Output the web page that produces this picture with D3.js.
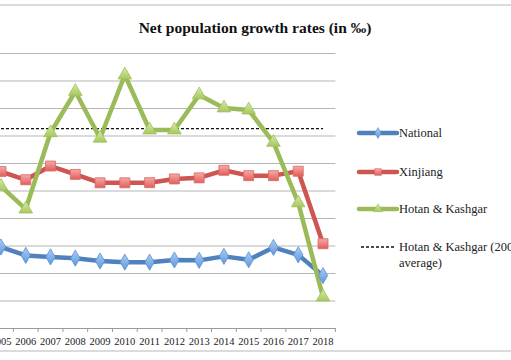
<!DOCTYPE html>
<html>
<head>
<meta charset="utf-8">
<script src="https://cdn.jsdelivr.net/npm/d3@7"></script>
<style>
  html, body { margin: 0; padding: 0; background: #fff; overflow: hidden; }
  svg { display: block; }
</style>
</head>
<body>
<svg id="chart" width="511" height="360"></svg>
<script>
const years = ["2005","2006","2007","2008","2009","2010","2011","2012","2013","2014","2015","2016","2017","2018"];
const national = [5.89, 5.28, 5.17, 5.08, 4.87, 4.79, 4.79, 4.95, 4.92, 5.21, 4.96, 5.86, 5.32, 3.81];
const xinjiang = [11.38, 10.78, 11.78, 11.17, 10.56, 10.56, 10.57, 10.84, 10.92, 11.47, 11.08, 11.08, 11.40, 6.13];
const hotanKashgar = [10.3, 8.65, 14.2, 17.2, 13.8, 18.4, 14.4, 14.4, 16.95, 16.0, 15.85, 13.5, 9.1, 2.25];
const hotanKashgarAverage = years.map(() => 14.5);
const yTicks = [0, 2, 4, 6, 8, 10, 12, 14, 16, 18, 20];
const titleText = "Net population growth rates (in \u2030)";
const legendLabels = ["National", "Xinjiang", "Hotan & Kashgar", "Hotan & Kashgar (2000-2018", "average)"];

const svg = d3.select("#chart");
const serif = "'Liberation Serif', 'DejaVu Serif', serif";

// chart border (outer frame, sides clipped)
svg.append("rect").attr("x", -20).attr("y", 5).attr("width", 551).attr("height", 346)
  .attr("fill", "none").attr("stroke", "#cfcfcf").attr("stroke-width", 1.5);

const x = d3.scaleBand().domain(years).range([-11.4, 335.4]).paddingInner(0).paddingOuter(0);
const y = d3.scaleLinear().domain([0, 20]).range([328, 53]);
const cx = d => x(d) + x.bandwidth() / 2;

// gridlines (the value labels lie outside the visible crop, as in the reference)
const gy = svg.append("g").attr("transform", `translate(${x.range()[0]},0)`)
  .call(d3.axisLeft(y).tickValues(yTicks).tickSize(-(x.range()[1] - x.range()[0])).tickFormat(""));
gy.select(".domain").remove();
gy.selectAll(".tick line").attr("stroke", "#b5b5b5").attr("stroke-width", 1);

// x axis
const gx = svg.append("g").attr("transform", `translate(0,${y(0)})`)
  .call(d3.axisBottom(x).tickSize(0).tickPadding(10));
gx.select(".domain").attr("stroke", "#9a9a9a").attr("stroke-width", 1);
gx.selectAll(".tick text").attr("font-family", serif).attr("font-size", 10.5).attr("fill", "#222");
const bounds = years.map(d => x(d)).concat([x.range()[1]]);
gx.selectAll(".bt").data(bounds).join("line").attr("class", "bt")
  .attr("x1", d => d).attr("x2", d => d).attr("y1", 0).attr("y2", 4)
  .attr("stroke", "#9a9a9a").attr("stroke-width", 1);

// gradients for markers
const defs = svg.append("defs");
function grad(id, c1, c2) {
  const g = defs.append("linearGradient").attr("id", id).attr("x1", 0).attr("y1", 0).attr("x2", 0).attr("y2", 1);
  g.append("stop").attr("offset", "0%").attr("stop-color", c1);
  g.append("stop").attr("offset", "100%").attr("stop-color", c2);
}
grad("gBlue", "#a9cdf5", "#5f98dd");
grad("gRed", "#f7a8a6", "#e05f5b");
grad("gGreen", "#d7eaa8", "#a6c95f");

const line = d3.line().x((d, i) => cx(years[i])).y(d => y(d));

// average dashed line
svg.append("path").datum(hotanKashgarAverage).attr("d", line)
  .attr("fill", "none").attr("stroke", "#111").attr("stroke-width", 1.3).attr("stroke-dasharray", "3,2");

const series = [
  { name: "National", data: national, color: "#4f81bd", fill: "url(#gBlue)", mstroke: "#5b8fcf", sym: d3.symbolDiamond, size: 75 },
  { name: "Xinjiang", data: xinjiang, color: "#cd5552", fill: "url(#gRed)", mstroke: "#d86a67", sym: d3.symbolSquare, size: 100 },
  { name: "Hotan & Kashgar", data: hotanKashgar, color: "#9bbb59", fill: "url(#gGreen)", mstroke: "#9fc05c", sym: d3.symbolTriangle, size: 80 }
];

series.forEach(s => {
  svg.append("path").datum(s.data).attr("d", line)
    .attr("fill", "none").attr("stroke", s.color).attr("stroke-width", 4.5).attr("stroke-linejoin", "round");
});
series.forEach(s => {
  svg.append("g").selectAll("path").data(s.data).join("path")
    .attr("transform", (d, i) => `translate(${cx(years[i])},${y(d)})`)
    .attr("d", d3.symbol().type(s.sym).size(s.size))
    .attr("fill", s.fill).attr("stroke", s.mstroke).attr("stroke-width", 0.8);
});

// title
svg.append("text").attr("x", 255).attr("y", 33).attr("text-anchor", "middle")
  .attr("font-family", serif).attr("font-weight", "bold").attr("font-size", 15.5).attr("fill", "#111")
  .text(titleText);

// legend
const lx1 = 359, lx2 = 397, tx = 398;
const legY = [133, 172, 209];
series.forEach((s, i) => {
  const g = svg.append("g");
  g.append("line").attr("x1", lx1).attr("x2", lx2).attr("y1", legY[i]).attr("y2", legY[i])
    .attr("stroke", s.color).attr("stroke-width", 4.5).attr("stroke-linecap", "round");
  g.append("path").attr("transform", `translate(${(lx1 + lx2) / 2},${legY[i]})`)
    .attr("d", d3.symbol().type(s.sym).size(s.size * 0.45)).attr("fill", s.fill).attr("stroke", s.mstroke).attr("stroke-width", 0.6);
  g.append("text").attr("x", tx + 1).attr("y", legY[i]).attr("dy", "0.35em")
    .attr("font-family", serif).attr("font-size", 12.5).attr("fill", "#222").text(legendLabels[i]);
});
svg.append("line").attr("x1", 361).attr("x2", 394).attr("y1", 247).attr("y2", 247)
  .attr("stroke", "#111").attr("stroke-width", 1.3).attr("stroke-dasharray", "3,2");
svg.append("text").attr("x", tx + 1).attr("y", 247).attr("dy", "0.35em")
  .attr("font-family", serif).attr("font-size", 12.5).attr("fill", "#222").text(legendLabels[3]);
svg.append("text").attr("x", tx + 1).attr("y", 263).attr("dy", "0.35em")
  .attr("font-family", serif).attr("font-size", 12.5).attr("fill", "#222").text(legendLabels[4]);
</script>
</body>
</html>
